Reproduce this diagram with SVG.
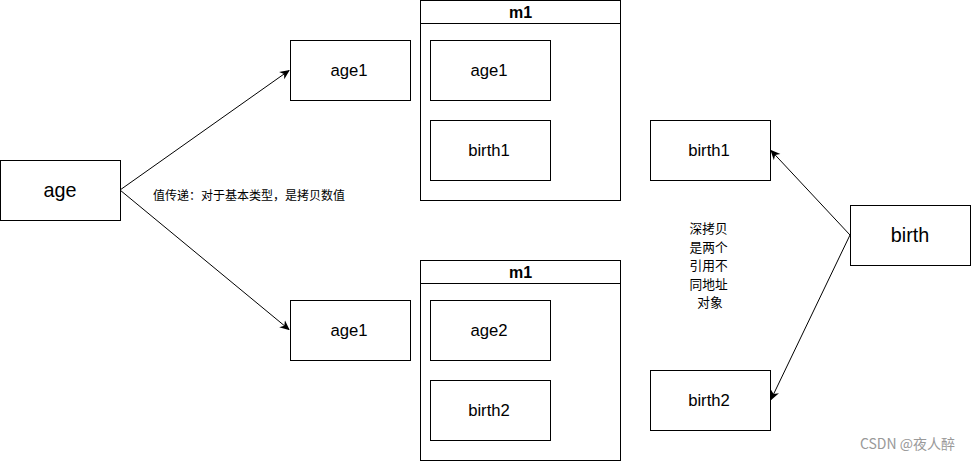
<svg xmlns="http://www.w3.org/2000/svg" width="971" height="461" viewBox="0 0 971 461">
<defs>
<marker id="arr" viewBox="0 0 10 10" refX="9" refY="5" markerWidth="10" markerHeight="10" markerUnits="userSpaceOnUse" orient="auto">
<path d="M0,0.5 L10,5 L0,9.5 L3,5 Z" fill="#000"/>
</marker>
<style>
.b{fill:#fff;stroke:#000;stroke-width:1}
.t{font-family:"Liberation Sans",Arial,sans-serif;font-size:16.7px;text-anchor:middle;fill:#000}
.L{font-size:19.8px}
.h{font-family:"Liberation Sans",Arial,sans-serif;font-size:16px;font-weight:bold;text-anchor:middle;fill:#000}
.c{font-family:"Noto Sans CJK SC","Liberation Sans",sans-serif;fill:#000}
.e{fill:none;stroke:#000;stroke-width:1;marker-end:url(#arr)}
</style>
</defs>
<rect width="971" height="461" fill="#fff"/>
<g id="connectors">
<line class="e" x1="120" y1="190" x2="289" y2="70.5"/>
<line class="e" x1="120" y1="190" x2="289" y2="329.5"/>
<line class="e" x1="850" y1="235" x2="771" y2="150.5"/>
<line class="e" x1="850" y1="235" x2="771" y2="399.5"/>
</g>
<g id="age"><rect class="b" x="0.5" y="160.5" width="120" height="60"/><text class="t L" x="60" y="197">age</text></g>
<g id="age1a"><rect class="b" x="290.5" y="40.5" width="120" height="60"/><text class="t" x="349" y="76">age1</text></g>
<g id="age1b"><rect class="b" x="290.5" y="300.5" width="120" height="60"/><text class="t" x="349" y="336">age1</text></g>
<g id="m1a">
<rect class="b" x="420.5" y="0.5" width="200" height="200"/>
<line x1="420.5" y1="23.5" x2="620.5" y2="23.5" stroke="#000"/>
<text class="h" x="520.5" y="18">m1</text>
<rect class="b" x="430.5" y="40.5" width="120" height="60"/><text class="t" x="489" y="76">age1</text>
<rect class="b" x="430.5" y="120.5" width="120" height="60"/><text class="t" x="489" y="156">birth1</text>
</g>
<g id="m1b">
<rect class="b" x="420.5" y="260.5" width="200" height="200"/>
<line x1="420.5" y1="283.5" x2="620.5" y2="283.5" stroke="#000"/>
<text class="h" x="520.5" y="278">m1</text>
<rect class="b" x="430.5" y="300.5" width="120" height="60"/><text class="t" x="489" y="336">age2</text>
<rect class="b" x="430.5" y="380.5" width="120" height="60"/><text class="t" x="489" y="416">birth2</text>
</g>
<g id="birth1"><rect class="b" x="650.5" y="120.5" width="120" height="60"/><text class="t" x="709" y="156">birth1</text></g>
<g id="birth2"><rect class="b" x="650.5" y="370.5" width="120" height="60"/><text class="t" x="709" y="406">birth2</text></g>
<g id="birth"><rect class="b" x="850.5" y="205.5" width="120" height="60"/><text class="t L" x="910" y="242">birth</text></g>
<g id="label1"><text class="c" x="153" y="200" style="font-size:12px">值传递：对于基本类型，是拷贝数值</text></g>
<g id="label2">
<text class="c" text-anchor="middle" style="font-size:12.7px">
<tspan x="710" y="233">深拷贝</tspan>
<tspan x="710" y="251.5">是两个</tspan>
<tspan x="710" y="270">引用不</tspan>
<tspan x="710" y="288.5">同地址</tspan>
<tspan x="710" y="307">对象</tspan>
</text>
</g>
<text x="955" y="449" text-anchor="end" style="font-family:'Noto Sans CJK SC','Liberation Sans',sans-serif;font-size:14px;fill:#999">CSDN @夜人醉</text>
</svg>
